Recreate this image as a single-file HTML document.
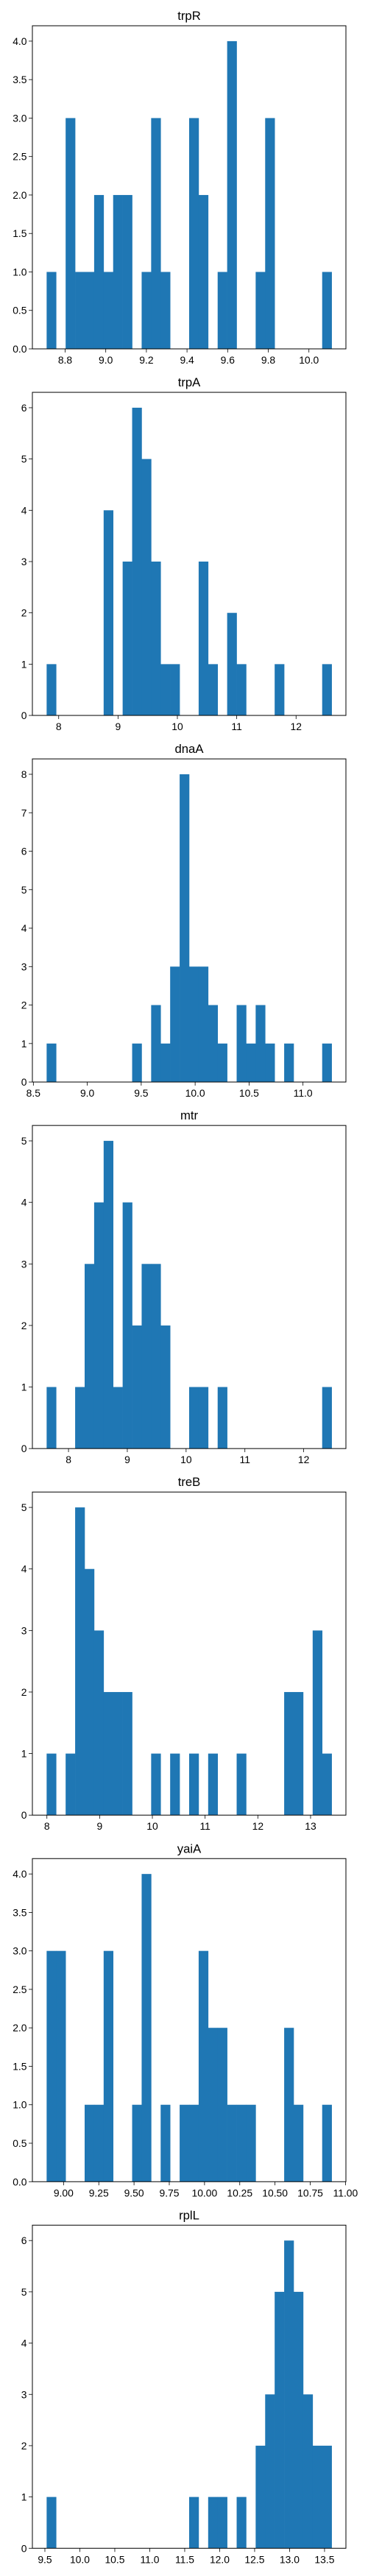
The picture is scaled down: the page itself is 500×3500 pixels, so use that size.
<!DOCTYPE html>
<html><head><meta charset="utf-8"><style>
html,body{margin:0;padding:0;background:#fff;}
svg{display:block;font-family:"Liberation Sans",Arial,sans-serif;}
</style></head><body>
<svg id="fig" width="500" height="3500" viewBox="0 0 500 3500" xmlns="http://www.w3.org/2000/svg"></svg>
<script>
const titles = ["trpR","trpA","dnaA","mtr","treB","yaiA","rplL"];
const binLo = [8.709, 7.797, 8.623, 7.628, 7.995, 8.880, 9.525];
const binHi = [10.112, 12.600, 11.266, 12.476, 13.400, 10.902, 13.602];
const counts_trpR = [1,0,3,1,1,2,1,2,2,0,1,3,1,0,0,3,2,0,1,4,0,0,1,3,0,0,0,0,0,1];
const counts_trpA = [1,0,0,0,0,0,4,0,3,6,5,3,1,1,0,0,3,1,0,2,1,0,0,0,1,0,0,0,0,1];
const counts_dnaA = [1,0,0,0,0,0,0,0,0,1,0,2,1,3,8,3,3,2,1,0,2,1,2,1,0,1,0,0,0,1];
const counts_mtr  = [1,0,0,1,3,4,5,1,4,2,3,3,2,0,0,1,1,0,1,0,0,0,0,0,0,0,0,0,0,1];
const counts_treB = [1,0,1,5,4,3,2,2,2,0,0,1,0,1,0,1,0,1,0,0,1,0,0,0,0,2,2,0,3,1];
const counts_yaiA = [3,3,0,0,1,1,3,0,0,1,4,0,1,0,1,1,3,2,2,1,1,1,0,0,0,2,1,0,0,1];
const counts_rplL = [1,0,0,0,0,0,0,0,0,0,0,0,0,0,0,1,0,1,1,0,1,0,2,3,5,6,5,3,2,2];
const xTicks_trpR = ["8.8","9.0","9.2","9.4","9.6","9.8","10.0"];
const xTicks_trpA = ["8","9","10","11","12"];
const xTicks_dnaA = ["8.5","9.0","9.5","10.0","10.5","11.0"];
const xTicks_mtr  = ["8","9","10","11","12"];
const xTicks_treB = ["8","9","10","11","12","13"];
const xTicks_yaiA = ["9.00","9.25","9.50","9.75","10.00","10.25","10.50","10.75","11.00"];
const xTicks_rplL = ["9.5","10.0","10.5","11.0","11.5","12.0","12.5","13.0","13.5"];
const yTicks_trpR = ["0.0","0.5","1.0","1.5","2.0","2.5","3.0","3.5","4.0"];
const yTicks_trpA = ["0","1","2","3","4","5","6"];
const yTicks_dnaA = ["0","1","2","3","4","5","6","7","8"];
const yTicks_mtr  = ["0","1","2","3","4","5"];
const yTicks_treB = ["0","1","2","3","4","5"];
const yTicks_yaiA = ["0.0","0.5","1.0","1.5","2.0","2.5","3.0","3.5","4.0"];
const yTicks_rplL = ["0","1","2","3","4","5","6"];

const allCounts = [counts_trpR,counts_trpA,counts_dnaA,counts_mtr,counts_treB,counts_yaiA,counts_rplL];
const allX = [xTicks_trpR,xTicks_trpA,xTicks_dnaA,xTicks_mtr,xTicks_treB,xTicks_yaiA,xTicks_rplL];
const allY = [yTicks_trpR,yTicks_trpA,yTicks_dnaA,yTicks_mtr,yTicks_treB,yTicks_yaiA,yTicks_rplL];

const NS = "http://www.w3.org/2000/svg";
const svg = document.getElementById("fig");
function mk(tag, attrs, parent){
  const e = document.createElementNS(NS, tag);
  for (const k in attrs) e.setAttribute(k, attrs[k]);
  parent.appendChild(e); return e;
}
const L = 44, R = 470, H = 439;
for (let p = 0; p < 7; p++) {
  const top = 35 + 498.05 * p, bot = top + H;
  const g = mk("g", {}, svg);
  
  
  const counts = allCounts[p];
  const lo = binLo[p], hi = binHi[p], n = counts.length;
  const span = hi - lo, x0 = lo - 0.05 * span, x1 = hi + 0.05 * span;
  const ymax = Math.max(...counts) * 1.05;
  const sx = v => L + (v - x0) / (x1 - x0) * (R - L);
  const sy = v => bot - v / ymax * H;
  const bw = span / n;
  for (let i = 0; i < n; i++) {
    if (!counts[i]) continue;
    const xa = sx(lo + i * bw), xb = sx(lo + (i + 1) * bw);
    const r = mk("rect", {x: xa, y: sy(counts[i]), width: xb - xa + 0.3, height: bot - sy(counts[i]), fill: "#1f77b4"}, g);
    
    
  }
  const frame = mk("rect", {x: L, y: top, width: R - L, height: H, fill: "none", stroke: "#000", "stroke-width": 1}, g);
  
  
  const t = mk("text", {x: (L + R) / 2, y: top - 8, "text-anchor": "middle", "font-size": 16.7, fill: "#000"}, g);
  t.textContent = titles[p];
  
  
  allX[p].forEach(lbl => {
    const x = sx(parseFloat(lbl));
    mk("line", {x1: x, x2: x, y1: bot, y2: bot + 4.9, stroke: "#000", "stroke-width": 0.8}, g);
    const tx = mk("text", {x: x, y: bot + 20, "text-anchor": "middle", "font-size": 13.9, fill: "#000"}, g);
    tx.textContent = lbl;
    
    
  });
  allY[p].forEach(lbl => {
    const y = sy(parseFloat(lbl));
    mk("line", {x1: L - 4.9, x2: L, y1: y, y2: y, stroke: "#000", "stroke-width": 0.8}, g);
    const ty = mk("text", {x: L - 7.5, y: y + 5, "text-anchor": "end", "font-size": 13.9, fill: "#000"}, g);
    ty.textContent = lbl;
    
    
  });
}
</script>
</body></html>
